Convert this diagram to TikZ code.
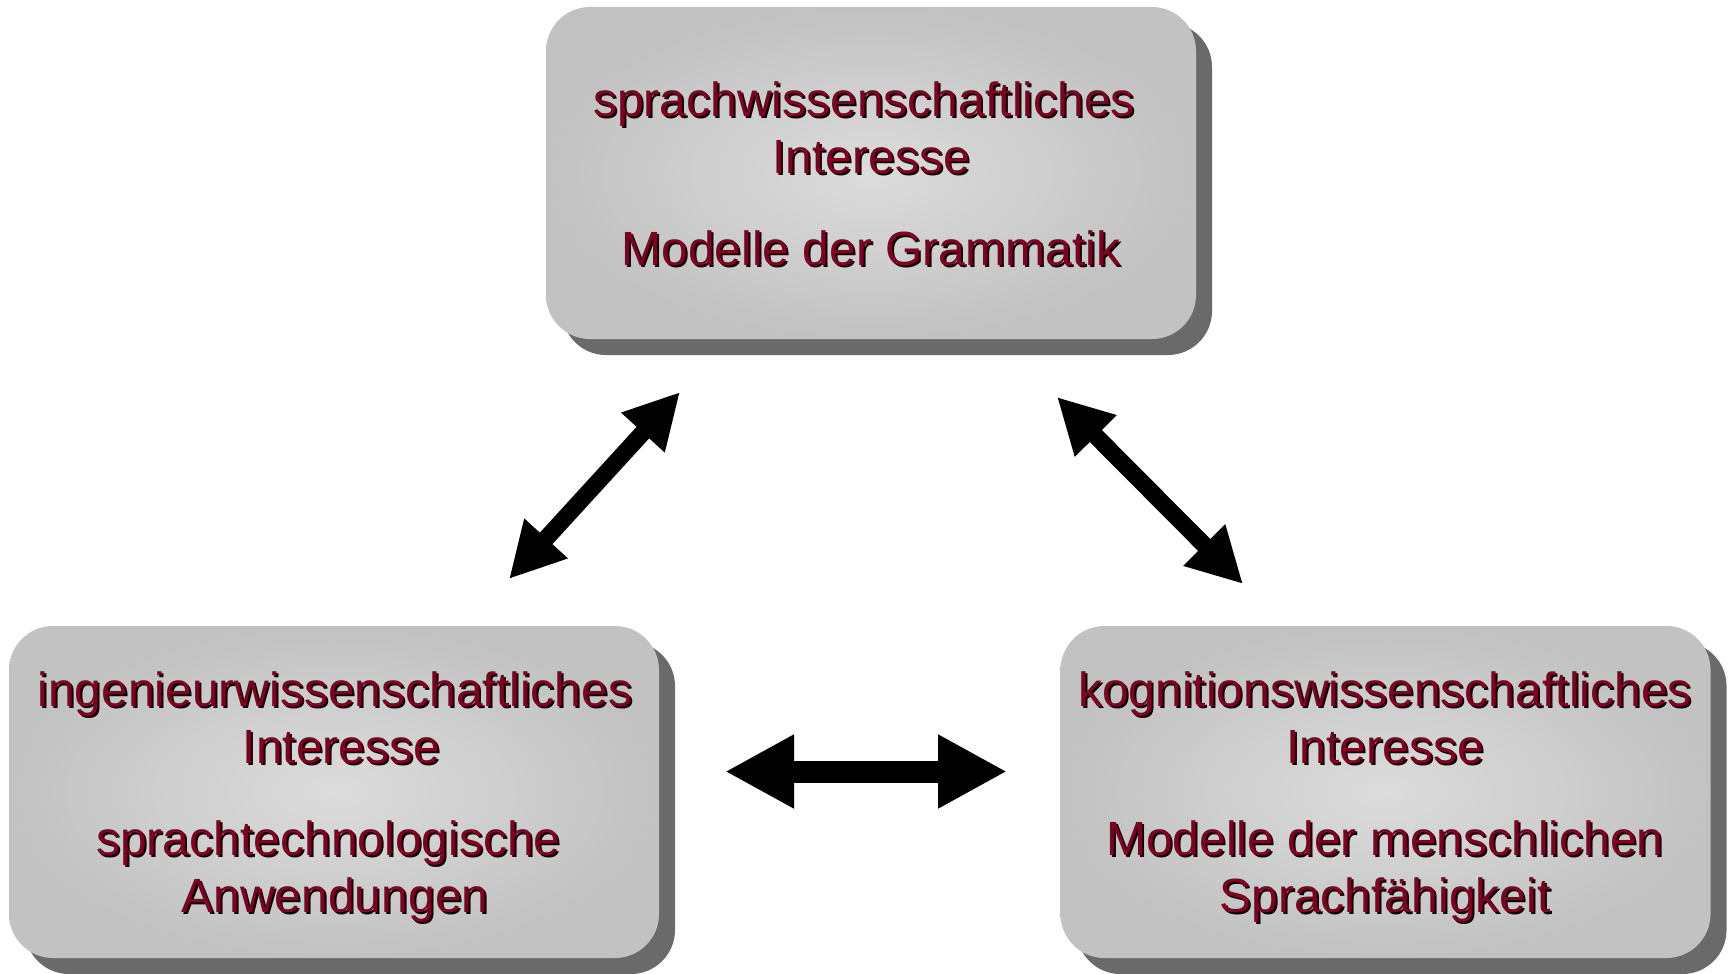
\documentclass[tikz,border=0pt]{standalone}
\usepackage{fontspec}
\setmainfont{Liberation Sans}
\usetikzlibrary{arrows.meta,shadows}
\definecolor{txtred}{RGB}{128,0,32}
\definecolor{boxin}{RGB}{220,220,220}
\definecolor{boxout}{RGB}{194,194,194}
\definecolor{shadowgray}{RGB}{106,106,106}
\begin{document}
\begin{tikzpicture}[x=0.5pt,y=-0.5pt,
 panel/.style={rectangle, rounded corners=22pt, minimum width=325pt, minimum height=166pt, inner sep=0pt, draw=none, inner color=boxin, outer color=boxout, drop shadow={shadow xshift=8pt, shadow yshift=-8pt, fill=shadowgray, opacity=1}},
 boxtext/.style={align=center, font=\fontsize{24}{28.5}\selectfont, text=txtred, inner sep=0pt},
 boxtextshadow/.style={boxtext, text=black},
 diag/.style={line width=8.5pt, {Triangle[length=27.5pt,width=27.5pt]}-{Triangle[length=27.5pt,width=27.5pt]}},
 horiz/.style={line width=11pt, {Triangle[length=34.5pt,width=34.5pt]}-{Triangle[length=34.5pt,width=34.5pt]}}
]
\useasboundingbox (0,0) rectangle (1732,973);
\node[panel] (top) at (871,173) {};
\node[panel] (left) at (334,792) {};
\node[panel] (right) at (1385.5,792) {};

\newcommand{\toptext}{sprachwissenschaftliches\hspace*{7pt}\\Interesse\\[17.5pt]Modelle der Grammatik}
\newcommand{\lefttext}{ingenieurwissenschaftliches\\\hspace*{6.6pt}Interesse\\[17.5pt]\hspace*{-6.6pt}sprachtechnologische\\Anwendungen}
\newcommand{\righttext}{kognitionswissenschaftliches\\Interesse\\[17.5pt]Modelle der menschlichen\\Sprachf\"ahigkeit}

\node[boxtextshadow] (stop) at (873,176) {\toptext};
\node[boxtext] (ttop) at (871,174) {\toptext};

\node[boxtextshadow] (sleft) at (337,799) {\lefttext};
\node[boxtext] (tleft) at (335,797) {\lefttext};

\node[boxtextshadow] (sright) at (1387,799) {\righttext};
\node[boxtext] (tright) at (1385,797) {\righttext};

\coordinate (a1s) at (509,579);
\coordinate (a1e) at (680,392);
\coordinate (a2s) at (1057,397);
\coordinate (a2e) at (1243,584);
\coordinate (a3s) at (725,771.5);
\coordinate (a3e) at (1007,771.5);
\draw[diag] (a1s) -- (a1e);
\draw[diag] (a2s) -- (a2e);
\draw[horiz] (a3s) -- (a3e);
\end{tikzpicture}
\end{document}
